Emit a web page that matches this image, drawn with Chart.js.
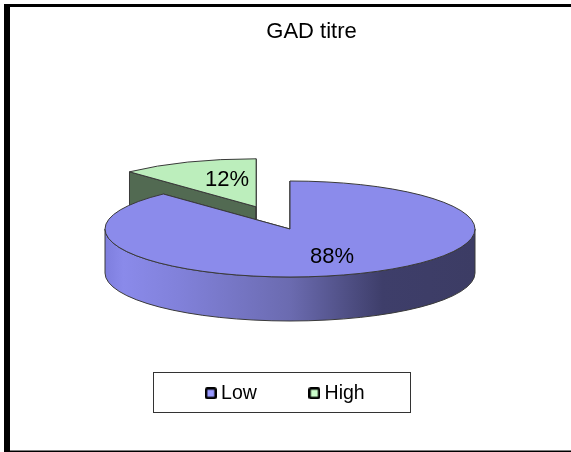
<!DOCTYPE html>
<html>
<head>
<meta charset="utf-8">
<title>GAD titre</title>
<script src="https://cdn.jsdelivr.net/npm/chart.js@4"></script>
<style>
  html, body { margin: 0; padding: 0; background: #fff; overflow: hidden; }
  canvas { display: block; }
</style>
</head>
<body>
<canvas id="myChart" width="571" height="452"></canvas>
<script>
const categories = ['Low', 'High'];
const values = [88, 12];
const topColors = ['#8b8beb', '#bceebc'];
const wallColors = ['#3c3c66', '#526a52'];
const legendColors = ['#9999ff', '#ccffcc'];
const explode = [0, 92];
const labelShift = [[42, 28], [-29, -27]];

const FONT = '"Liberation Sans", Arial, sans-serif';
const squash = 48 / 185;
const depth = 44;
const centerX = 290;
const centerY = 229;
const outline = '#3a3a3a';

function swatch(color) {
  const c = document.createElement('canvas');
  c.width = 12;
  c.height = 12;
  const g = c.getContext('2d');
  g.fillStyle = '#000';
  g.beginPath();
  g.roundRect(0, 0, 12, 12, 2.5);
  g.fill();
  g.fillStyle = color;
  g.fillRect(2.5, 2.5, 7, 7);
  return c;
}

function rimGradient(ctx) {
  const grad = ctx.createLinearGradient(105, 0, 475, 0);
  grad.addColorStop(0, '#7e7ede');
  grad.addColorStop(0.05, '#8a8aea');
  grad.addColorStop(0.2, '#8181da');
  grad.addColorStop(0.5, '#6b6bb0');
  grad.addColorStop(0.75, '#3e3e6a');
  grad.addColorStop(1, '#3c3c64');
  return grad;
}

function drawSlice(chart, arc, i) {
  const ctx = chart.ctx;
  const mid = (arc.startAngle + arc.endAngle) / 2;
  const x = centerX + Math.cos(mid) * explode[i];
  const y = centerY + Math.sin(mid) * explode[i] * squash;
  const rx = arc.outerRadius;
  const ry = rx * squash;

  ctx.save();
  ctx.lineWidth = 1;
  ctx.strokeStyle = outline;
  ctx.lineJoin = 'round';

  // cut faces, the top face paints over whichever faces away
  [arc.startAngle, arc.endAngle].forEach((a) => {
    const ex = x + Math.cos(a) * rx;
    const ey = y + Math.sin(a) * ry;
    ctx.beginPath();
    ctx.moveTo(x, y);
    ctx.lineTo(ex, ey);
    ctx.lineTo(ex, ey + depth);
    ctx.lineTo(x, y + depth);
    ctx.closePath();
    ctx.fillStyle = wallColors[i];
    ctx.fill();
    ctx.stroke();
  });

  // outer rim, front half only
  const a0 = Math.max(arc.startAngle, 0);
  const a1 = Math.min(arc.endAngle, Math.PI);
  if (a1 > a0) {
    ctx.beginPath();
    ctx.ellipse(x, y, rx, ry, 0, a0, a1);
    ctx.ellipse(x, y + depth, rx, ry, 0, a1, a0, true);
    ctx.closePath();
    ctx.fillStyle = rimGradient(ctx);
    ctx.fill();
    ctx.stroke();
  }

  // top face is the chart's own arc, flattened
  ctx.save();
  ctx.translate(x, y);
  ctx.scale(1, squash);
  ctx.translate(-arc.x, -arc.y);
  arc.draw(ctx);
  ctx.restore();

  ctx.beginPath();
  ctx.moveTo(x, y);
  ctx.ellipse(x, y, rx, ry, 0, arc.startAngle, arc.endAngle);
  ctx.closePath();
  ctx.stroke();
  ctx.restore();

  ctx.save();
  ctx.fillStyle = '#000';
  ctx.font = '22px ' + FONT;
  ctx.textAlign = 'center';
  ctx.textBaseline = 'middle';
  ctx.fillText(values[i] + '%', x + labelShift[i][0], y + labelShift[i][1]);
  ctx.restore();
}

const pie3d = {
  id: 'pie3d',
  afterLayout(chart) {
    // title and legend sit off the page centre in the original
    chart.titleBlock.left += 52;
    chart.legend.left += 4;
  },
  beforeDraw(chart) {
    const ctx = chart.ctx;
    ctx.save();
    ctx.fillStyle = '#fff';
    ctx.fillRect(0, 0, chart.width, chart.height);
    ctx.fillStyle = '#000';
    ctx.fillRect(4, 4, 567, 3);
    ctx.fillRect(4, 4, 6, 448);
    ctx.fillRect(4, 450.5, 567, 1.5);
    ctx.strokeStyle = '#333';
    ctx.lineWidth = 1;
    ctx.strokeRect(153.5, 372.5, 257, 40);
    ctx.restore();
  },
  beforeDatasetsDraw(chart) {
    const arcs = chart.getDatasetMeta(0).data;
    drawSlice(chart, arcs[1], 1);
    drawSlice(chart, arcs[0], 0);
    return false;
  }
};

const ctx = document.getElementById('myChart').getContext('2d');
new Chart(ctx, {
  type: 'pie',
  data: {
    labels: categories,
    datasets: [{
      data: values,
      backgroundColor: topColors,
      borderWidth: 0,
      radius: 185
    }]
  },
  options: {
    responsive: false,
    animation: false,
    layout: { padding: { bottom: 39 } },
    plugins: {
      tooltip: { enabled: false },
      title: {
        display: true,
        text: 'GAD titre',
        color: '#000',
        font: { family: FONT, size: 22, weight: 'normal' },
        padding: { top: 19, bottom: 10 }
      },
      legend: {
        position: 'bottom',
        onClick: null,
        labels: {
          color: '#000',
          font: { family: FONT, size: 19.5 },
          usePointStyle: true,
          pointStyleWidth: 1,
          padding: 57,
          generateLabels: () => categories.map((text, i) => ({
            text,
            fontColor: '#000',
            pointStyle: swatch(legendColors[i]),
            hidden: false,
            index: i
          }))
        }
      }
    }
  },
  plugins: [pie3d]
});
</script>
</body>
</html>
